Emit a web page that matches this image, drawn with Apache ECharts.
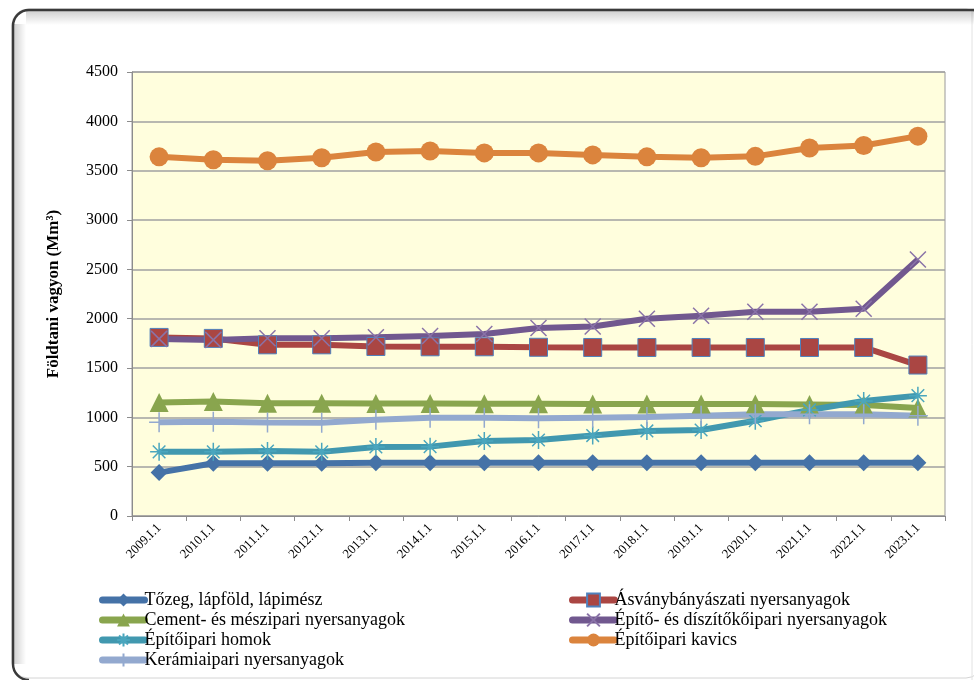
<!DOCTYPE html>
<html>
<head>
<meta charset="utf-8">
<script src="https://cdn.jsdelivr.net/npm/echarts@6/dist/echarts.min.js"></script>
<style>
  html, body { margin: 0; padding: 0; background: #ffffff; }
  #chart { width: 974px; height: 680px; }
</style>
</head>
<body>
<div id="chart"></div>
<script>
// Dates of the yearly inventory (January 1st of each year)
const categories = ['2009.I.1','2010.I.1','2011.I.1','2012.I.1','2013.I.1','2014.I.1','2015.I.1',
  '2016.I.1','2017.I.1','2018.I.1','2019.I.1','2020.I.1','2021.I.1','2022.I.1','2023.I.1'];

// Geological reserves per raw material group (Mm³)
const tozeg    = [440, 535, 535, 535, 540, 540, 540, 540, 540, 540, 540, 540, 540, 540, 540];
const asvany   = [1810, 1800, 1735, 1735, 1718, 1715, 1715, 1710, 1708, 1708, 1708, 1708, 1708, 1708, 1530];
const cement   = [1150, 1160, 1143, 1143, 1140, 1140, 1138, 1138, 1136, 1136, 1136, 1134, 1130, 1126, 1095];
const diszito  = [1795, 1785, 1802, 1802, 1812, 1825, 1845, 1905, 1920, 2000, 2030, 2070, 2070, 2100, 2600];
const homok    = [650, 650, 658, 650, 700, 703, 760, 770, 815, 862, 872, 965, 1075, 1165, 1220];
const kavics   = [3640, 3610, 3600, 3630, 3690, 3700, 3680, 3680, 3660, 3640, 3630, 3645, 3730, 3755, 3850];
const keramia  = [950, 955, 948, 945, 975, 995, 995, 990, 997, 1003, 1017, 1030, 1030, 1030, 1017];

const yTicks = { min: 0, max: 4500, interval: 500 };

const names = {
  tozeg: 'Tőzeg, lápföld, lápimész',
  asvany: 'Ásványbányászati nyersanyagok',
  cement: 'Cement- és mészipari nyersanyagok',
  diszito: 'Építő- és díszítőkőipari nyersanyagok',
  homok: 'Építőipari homok',
  kavics: 'Építőipari kavics',
  keramia: 'Kerámiaipari nyersanyagok'
};

const serif = '"Liberation Serif", "DejaVu Serif", serif';

// Stroke-only marker shapes
const xMark = 'path://M0,0L10,10M10,0L0,10';
const starMark = 'path://M5,0L5,10M0,5L10,5M1.5,1.5L8.5,8.5M8.5,1.5L1.5,8.5';
const plusMark = 'path://M5,0L5,10M3,5L7,5';

function lineSeries(name, data, color, symbol, size, markerStyle) {
  return {
    name: name,
    type: 'line',
    data: data,
    symbol: symbol,
    symbolSize: size,
    lineStyle: { color: color, width: 6 },
    itemStyle: Object.assign({ color: color }, markerStyle || {}),
    emphasis: { disabled: true },
    z: 3
  };
}

const series = [
  lineSeries(names.tozeg, tozeg, '#4572A7', 'diamond', 17),
  lineSeries(names.asvany, asvany, '#AA4643', 'rect', 18, { borderColor: '#4F81BD', borderWidth: 1 }),
  lineSeries(names.cement, cement, '#89A54E', 'triangle', 19),
  lineSeries(names.diszito, diszito, '#71588F', xMark, 16, { color: 'rgba(0,0,0,0)', borderColor: '#8A73A8', borderWidth: 1.5 }),
  lineSeries(names.homok, homok, '#4198AF', starMark, 18, { color: 'rgba(0,0,0,0)', borderColor: '#4AA6BE', borderWidth: 1.5 }),
  lineSeries(names.kavics, kavics, '#DB843D', 'circle', 19),
  lineSeries(names.keramia, keramia, '#93A9CF', plusMark, 20, { color: 'rgba(0,0,0,0)', borderColor: '#93A9CF', borderWidth: 1.5 })
];

const legendText = { fontFamily: serif, fontSize: 18, color: '#000', lineHeight: 20, padding: [0, 0, 0, -5] };

function legendBlock(data, left) {
  return {
    data: data,
    orient: 'vertical', left: left, top: 590, itemGap: 0,
    itemWidth: 42, itemHeight: 16, textStyle: legendText,
    lineStyle: { width: 7, cap: 'round' },
    padding: 0
  };
}

const option = {
  animation: false,
  backgroundColor: '#ffffff',
  graphic: [
    { type: 'rect', z: -10, shape: { x: 12, y: 9, width: 970, height: 669, r: 16 },
      style: { fill: '#ffffff', stroke: '#d4d4d4', lineWidth: 1 } },
    { type: 'line', z: -9, shape: { x1: 972, y1: 9, x2: 972, y2: 680 },
      style: { stroke: '#e2e2e2', lineWidth: 1 } },
    { type: 'rect', z: -9, shape: { x: 26, y: 11, width: 960, height: 14 },
      style: { fill: { type: 'linear', x: 0, y: 0, x2: 0, y2: 1,
        colorStops: [{ offset: 0, color: 'rgba(0,0,0,0.18)' }, { offset: 1, color: 'rgba(0,0,0,0)' }] } } },
    { type: 'rect', z: -9, shape: { x: 14, y: 24, width: 12, height: 640 },
      style: { fill: { type: 'linear', x: 0, y: 0, x2: 1, y2: 0,
        colorStops: [{ offset: 0, color: 'rgba(0,0,0,0.18)' }, { offset: 1, color: 'rgba(0,0,0,0)' }] } } },
    { type: 'line', z: -8, shape: { x1: 13, y1: 26, x2: 13, y2: 664 },
      style: { stroke: '#3a3a3a', lineWidth: 2.5 } },
    { type: 'line', z: -8, shape: { x1: 29, y1: 10, x2: 974, y2: 10 },
      style: { stroke: '#3a3a3a', lineWidth: 2.5 } },
    { type: 'arc', z: -8, shape: { cx: 29, cy: 26, r: 16, startAngle: Math.PI, endAngle: Math.PI * 1.5 },
      style: { fill: null, stroke: '#3a3a3a', lineWidth: 2.5 } },
    { type: 'arc', z: -8, shape: { cx: 29, cy: 664, r: 16, startAngle: Math.PI / 2, endAngle: Math.PI },
      style: { fill: null, stroke: '#3a3a3a', lineWidth: 2.5 } }
  ],
  grid: {
    left: 132, right: 29, top: 72, bottom: 164,
    show: true, backgroundColor: '#FFFEDD', borderColor: '#9a9a9a', borderWidth: 1
  },
  legend: [
    legendBlock([names.tozeg, names.cement, names.homok, names.keramia], 99),
    legendBlock([names.asvany, names.diszito, names.kavics], 569)
  ],
  xAxis: {
    type: 'category',
    data: categories,
    boundaryGap: true,
    axisLine: { lineStyle: { color: '#8c8c8c', width: 1 } },
    axisTick: { show: true, inside: false, length: 5, lineStyle: { color: '#8c8c8c' } },
    axisLabel: { rotate: 45, fontFamily: serif, fontSize: 13, color: '#000', margin: 10, interval: 0 },
    splitLine: { show: false }
  },
  yAxis: {
    type: 'value',
    min: yTicks.min, max: yTicks.max, interval: yTicks.interval,
    name: 'Földtani vagyon (Mm³)',
    nameLocation: 'middle',
    nameGap: 70,
    nameRotate: 90,
    nameTextStyle: { fontFamily: serif, fontSize: 17, fontWeight: 'bold', color: '#000' },
    axisLine: { show: true, lineStyle: { color: '#8c8c8c' } },
    axisTick: { show: true, length: 5, lineStyle: { color: '#8c8c8c' } },
    axisLabel: { fontFamily: serif, fontSize: 16, color: '#000', margin: 14, formatter: v => String(v) },
    splitLine: { lineStyle: { color: '#a0a0a0', width: 1.5 } }
  },
  series: series
};

const chart = echarts.init(document.getElementById('chart'), null, { renderer: 'canvas' });
chart.setOption(option);
</script>
</body>
</html>
